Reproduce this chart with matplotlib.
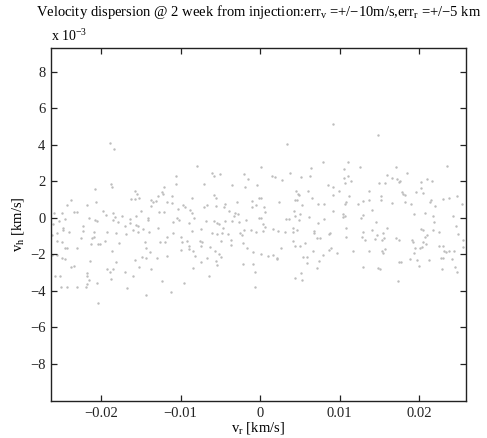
import matplotlib
matplotlib.use("Agg")
import matplotlib.pyplot as plt
import numpy as np

plt.rcParams['font.family'] = ['Liberation Serif', 'DejaVu Serif']
plt.rcParams['mathtext.fontset'] = 'custom'
plt.rcParams['mathtext.rm'] = 'Liberation Serif'
plt.rcParams['mathtext.it'] = 'Liberation Serif'

# radial velocity error (km/s)
vr = [
 -0.01888,-0.01833,-0.02076,-0.01871,-0.01867,-0.02374,-0.02064,-0.02424,-0.02173,-0.02340,
 -0.02307,-0.01972,-0.02588,-0.02491,-0.01854,-0.01942,-0.02148,-0.01821,-0.02533,-0.02458,
 -0.02076,-0.02055,-0.01854,-0.01783,-0.02600,-0.02227,-0.02474,-0.02483,-0.02399,-0.02223,
 -0.02093,-0.01930,-0.01817,-0.02613,-0.02558,-0.02114,-0.02550,-0.02491,-0.02252,-0.02085,
 -0.02122,-0.02043,-0.02014,-0.01946,-0.01770,-0.02307,-0.02458,-0.02433,-0.01863,-0.02613,
 -0.02550,-0.02491,-0.02449,-0.02143,-0.01812,-0.02382,-0.02340,-0.01921,-0.01846,-0.01888,
 -0.02173,-0.02173,-0.02575,-0.02516,-0.02152,-0.01879,-0.02055,-0.02177,-0.02500,-0.02433,
 -0.02307,-0.02194,-0.02039,
 -0.01061,-0.01057,-0.01204,-0.01577,-0.01543,-0.01237,-0.01216,-0.01112,-0.01627,-0.01572,
 -0.01522,-0.01279,-0.01376,-0.01342,-0.01308,-0.01174,-0.01112,-0.00965,-0.00944,-0.01371,
 -0.01501,-0.01560,-0.01267,-0.01204,-0.01028,-0.01740,-0.01635,-0.01413,-0.01409,-0.01091,
 -0.01040,-0.01015,-0.00889,-0.01702,-0.01635,-0.01560,-0.01539,-0.01468,-0.01593,-0.01531,
 -0.01686,-0.01392,-0.01279,-0.01091,-0.01174,-0.00999,-0.01195,-0.01258,-0.00986,-0.00923,
 -0.01447,-0.01434,-0.00894,-0.00894,-0.01384,-0.00999,-0.01174,-0.01300,-0.01485,-0.01434,
 -0.01577,-0.01518,-0.01371,-0.01698,-0.01593,-0.01229,-0.00952,-0.01677,-0.01116,-0.01434,
 -0.00797,-0.00609,-0.00579,-0.00504,-0.00198,-0.00148,-0.00705,-0.00357,-0.00190,-0.00043,
 -0.00856,-0.00575,-0.00554,-0.00097,-0.00294,-0.00009,-0.00671,-0.00701,-0.00554,-0.00441,
 -0.00449,-0.00387,-0.00311,-0.00324,-0.00273,-0.00106,-0.00051,-0.00881,-0.00860,-0.00831,
 -0.00680,-0.00579,-0.00537,-0.00521,-0.00445,-0.00357,-0.00261,-0.00177,-0.00198,-0.00118,
 -0.00009,-0.00856,-0.00739,-0.00604,-0.00546,-0.00479,-0.00403,-0.00252,-0.00232,-0.00051,
 -0.00462,-0.00755,-0.00730,-0.00747,-0.00630,-0.00491,-0.00366,-0.00370,-0.00211,-0.00169,
 -0.00093,-0.00847,-0.00814,-0.00571,-0.00512,-0.00487,-0.00663,-0.00554,-0.00546,-0.00739,
 -0.00211,-0.00085,-0.00060,-0.00839,-0.00646,-0.00060,
 0.00344,0.00017,0.00796,0.00645,0.00151,0.00189,0.00377,0.00511,0.00629,0.00281,
 0.00851,0.00008,0.00448,0.00494,0.00473,0.00599,0.00436,0.00461,0.00658,0.00235,
 0.00524,0.00733,0.00804,0.00054,0.00059,0.00423,0.00503,0.00444,0.00620,0.00809,
 0.00008,0.00331,0.00360,0.00494,0.00729,0.00042,0.00063,0.00419,0.00168,0.00226,
 0.00034,0.00318,0.00411,0.00461,0.00679,0.00683,0.00872,0.00721,0.00754,0.00411,
 0.00561,0.00444,0.00503,0.00260,0.00670,0.00796,0.00872,0.00008,0.00101,0.00168,
 0.00218,0.00210,0.00536,0.00591,0.00746,0.00587,0.00712,0.00520,0.00444,0.00528,
 0.00915,0.01489,0.01107,0.01258,0.01057,0.01706,0.01057,0.01111,0.01141,0.01074,
 0.01602,0.01656,0.01719,0.01752,0.01501,0.01572,0.00923,0.00990,0.01375,0.01518,
 0.00915,0.01124,0.01522,0.01082,0.01065,0.01300,0.01367,0.01237,0.01656,0.01405,
 0.00915,0.01049,0.01070,0.01040,0.01292,0.01271,0.01459,0.01082,0.01300,0.01602,
 0.01409,0.01468,0.01551,0.01564,0.00881,0.01082,0.01279,0.01317,0.01447,0.01530,
 0.01711,0.01744,0.00894,0.00973,0.01174,0.01375,0.01530,0.01577,0.01551,0.01292,
 0.01489,0.01510,0.01752,0.01740,
 0.02348,0.01853,0.02096,0.02163,0.02021,0.01761,0.01962,0.02021,0.02054,0.01782,
 0.01795,0.01820,0.01828,0.01895,0.02151,0.02138,0.02297,0.02381,0.02482,0.02536,
 0.02197,0.01937,0.02071,0.02172,0.02423,0.02193,0.02465,0.02021,0.02054,0.02180,
 0.02255,0.02096,0.02075,0.01912,0.01929,0.02046,0.02088,0.02494,0.02557,0.01954,
 0.02012,0.02038,0.02255,0.02297,0.02318,0.02339,0.02381,0.02440,0.02557,0.01769,
 0.01887,0.01937,0.01971,0.01996,0.02121,0.02281,0.02306,0.02415,0.02448,0.02482,
 0.02289,
]

# horizontal velocity error (units of 1e-3 km/s)
vh = [
 4.08,3.75,1.58,1.85,1.67,0.98,0.88,0.70,0.67,0.34,
 0.34,0.37,0.25,0.25,0.25,0.15,-0.03,0.06,-0.17,-0.08,
 -0.12,-0.16,-0.12,-0.21,-0.32,-0.45,-0.58,-0.67,-0.76,-0.72,
 -0.76,-0.76,-0.85,-0.94,-0.85,-1.09,-1.27,-1.31,-1.12,-1.03,
 -1.45,-1.45,-1.45,-1.27,-1.36,-1.64,-1.64,-1.67,-1.85,-2.04,
 -2.04,-2.22,-2.26,-2.35,-2.40,-2.71,-2.64,-2.82,-2.82,-2.95,
 -3.04,-3.17,-3.22,-3.22,-3.41,-3.35,-3.59,-3.63,-3.77,-3.77,
 -3.77,-3.81,-4.68,
 2.31,1.83,1.69,1.47,1.29,1.40,1.29,1.21,1.01,1.01,
 1.07,1.21,0.98,0.88,0.92,0.88,0.79,0.70,0.61,0.65,
 0.37,0.12,0.34,0.30,0.48,0.12,-0.07,-0.03,-0.12,-0.21,
 -0.03,-0.12,-0.30,-0.43,-0.30,-0.39,-0.47,-0.61,-0.70,-0.80,
 -0.89,-0.80,-0.54,-0.85,-1.07,-1.03,-1.31,-1.34,-1.31,-1.27,
 -1.34,-1.64,-1.53,-1.71,-1.89,-1.76,-2.07,-2.18,-2.13,-2.18,
 -2.31,-2.68,-2.80,-2.95,-3.22,-3.44,-3.59,-3.83,-4.08,-4.26,
 2.86,2.44,2.31,2.38,2.40,2.13,1.85,1.80,1.67,1.80,
 1.10,1.25,1.07,0.92,0.85,1.07,0.70,0.56,0.65,0.76,
 0.61,0.39,0.25,0.12,0.19,0.61,0.67,0.43,0.25,-0.03,
 -0.19,-0.17,-0.30,-0.34,-0.17,-0.16,-0.25,-0.12,-0.67,-0.67,
 -0.03,-0.72,-0.61,-0.81,-0.90,-0.81,-0.90,-0.85,-0.94,-0.80,
 -0.54,-1.27,-1.34,-1.53,-1.58,-1.27,-1.22,-1.49,-1.40,-1.64,
 -1.89,-1.82,-2.07,-1.85,-1.98,-2.13,-2.22,-2.37,-2.58,-2.40,
 -2.53,-2.55,-2.95,-2.77,-3.17,-3.77,
 4.03,2.80,3.04,2.71,2.31,2.25,2.45,2.24,2.27,2.07,
 1.80,1.10,1.47,1.25,1.29,1.47,0.99,0.99,1.07,0.85,
 0.70,0.76,0.76,0.61,0.30,0.37,0.19,0.12,0.06,-0.08,
 0.01,-0.06,-0.06,-0.12,-0.30,-0.36,-0.52,-0.54,-0.61,-0.72,
 -0.72,-0.80,-0.76,-0.69,-0.72,-0.83,-0.87,-1.12,-1.12,-1.27,
 -1.40,-1.54,-1.54,-1.64,-1.85,-2.04,-1.78,-2.00,-2.07,-2.04,
 -2.18,-2.26,-2.16,-2.13,-2.37,-2.49,-2.77,-3.04,-3.32,-3.41,
 5.14,4.54,3.04,2.78,2.67,2.78,2.20,2.29,2.02,1.89,
 2.35,2.16,2.13,1.98,1.89,1.89,1.69,1.47,1.49,1.21,
 1.25,1.21,0.98,0.88,0.77,0.92,0.98,0.74,0.79,0.43,
 0.39,0.19,0.12,0.03,0.15,0.01,-0.21,-0.58,-0.76,-0.58,
 -0.67,-0.94,-0.85,-1.09,-0.85,-1.03,-1.03,-1.22,-1.16,-1.22,
 -1.12,-1.20,-1.64,-1.95,-1.85,-1.80,-1.80,-1.71,-1.95,-2.71,
 -2.77,-2.80,-2.40,-3.46,
 2.84,2.47,2.13,2.03,1.98,2.02,1.43,1.65,1.34,1.43,
 1.29,1.25,0.88,0.74,0.98,0.85,1.03,1.07,1.21,0.74,
 0.65,0.19,0.28,0.12,0.10,-0.21,-0.43,-0.63,-0.70,-0.69,
 -0.80,-0.94,-1.03,-1.22,-1.31,-1.34,-1.42,-0.90,-1.22,-1.64,
 -1.67,-1.58,-1.54,-1.53,-1.85,-1.89,-1.85,-1.82,-1.58,-2.40,
 -2.26,-1.95,-2.31,-2.66,-2.31,-2.18,-2.22,-2.26,-2.71,-2.95,
 -2.82,
]

x_ticks = [-0.02, -0.01, 0, 0.01, 0.02]
x_ticklabels = ['\u22120.02', '\u22120.01', '0', '0.01', '0.02']
y_ticks = [-8, -6, -4, -2, 0, 2, 4, 6, 8]
y_ticklabels = [('\u2212' + str(-t)) if t < 0 else str(t) for t in y_ticks]

fig = plt.figure(figsize=(4.87, 4.38), dpi=100)
ax = fig.add_axes([0.1047, 0.0845, 0.852, 0.806])

ax.scatter(vr, vh, s=3, c='#bdbdbd', marker='o', linewidths=0)

ax.set_xlim(-0.0263, 0.0259)
ax.set_ylim(-10.04, 9.3)
ax.set_xticks(x_ticks)
ax.set_xticklabels(x_ticklabels)
ax.set_yticks(y_ticks)
ax.set_yticklabels(y_ticklabels)
ax.tick_params(direction='in', length=4, width=0.9, top=True, right=True,
               labelsize=10.5, pad=4, colors='#222222')
for s in ax.spines.values():
    s.set_linewidth(1.0)
    s.set_color('#222222')

ax.set_xlabel('v$_r$ [km/s]', fontsize=10.5, labelpad=0)
ax.set_ylabel('v$_h$ [km/s]', fontsize=10.5, labelpad=3)
ax.set_title('Velocity dispersion @ 2 week from injection:err$_v$ =+/\u221210m/s,err$_r$ =+/\u22125 km',
             fontsize=10.5, pad=23)
ax.text(0.0, 1.012, 'x 10$^{-3}$', transform=ax.transAxes, fontsize=10,
        ha='left', va='bottom')

fig.savefig('out.png', dpi=100)
